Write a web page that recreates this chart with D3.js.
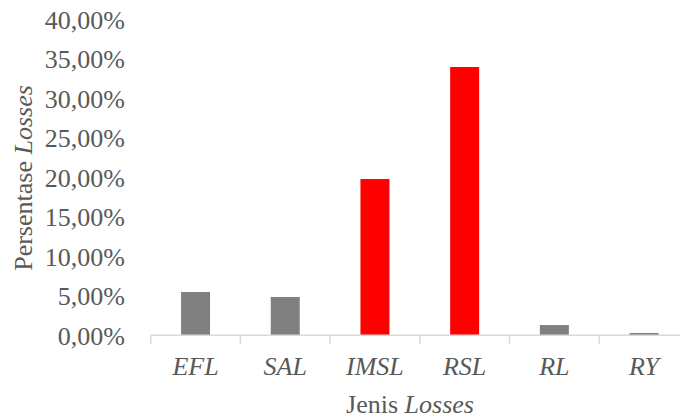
<!DOCTYPE html>
<html><head><meta charset="utf-8">
<script src="https://cdn.jsdelivr.net/npm/d3@7"></script>
<style>body{margin:0;background:#fff}svg{display:block}text{font-family:"Liberation Serif","Times New Roman",serif}</style>
</head><body>
<svg id="c" width="680" height="418"></svg>
<script>
const categories = ["EFL","SAL","IMSL","RSL","RL","RY"];
const values = [0.0548, 0.0485, 0.1978, 0.3396, 0.0130, 0.0029];
const highlighted = ["IMSL","RSL"];
const yTicks = [0,0.05,0.10,0.15,0.20,0.25,0.30,0.35,0.40];

const svg = d3.select("#c");
const x0 = 150.7, x1 = 688.9, yBase = 335.3, yTop = 19.3;
const x = d3.scaleBand().domain(categories).range([x0,x1]).paddingInner(0).paddingOuter(0);
const y = d3.scaleLinear().domain([0,0.40]).range([yBase,yTop]);
const font = "Liberation Serif";
const fs = 26;
const fmt = v => (v*100).toFixed(2).replace(".",",")+"%";

// bars
const bw = 29;
svg.selectAll("rect.bar").data(categories).enter().append("rect")
  .attr("x", d => x(d)+x.bandwidth()/2-bw/2)
  .attr("y", (d,i) => y(values[i]))
  .attr("width", bw)
  .attr("height", (d,i) => yBase - y(values[i]))
  .attr("fill", d => highlighted.includes(d) ? "#ff0000" : "#808080");

// x axis
svg.append("line").attr("x1",x0).attr("x2",680).attr("y1",yBase).attr("y2",yBase)
  .attr("stroke","#d9d9d9").attr("stroke-width",1.5);
const bounds = categories.map(c => x(c)).concat([x1]);
svg.selectAll("line.tk").data(bounds).enter().append("line")
  .attr("x1",d=>d).attr("x2",d=>d).attr("y1",yBase).attr("y2",yBase+8.5)
  .attr("stroke","#d9d9d9").attr("stroke-width",1.5);
svg.selectAll("text.cat").data(categories).enter().append("text")
  .attr("x", d => x(d)+x.bandwidth()/2).attr("y", 375)
  .attr("text-anchor","middle").attr("font-family",font).attr("font-style","italic")
  .attr("font-size",fs).attr("fill","#595959").text(d=>d);

// y axis labels
const ya = svg.append("g").attr("transform",`translate(125,0)`)
  .call(d3.axisLeft(y).tickValues(yTicks).tickSize(0).tickPadding(0).tickFormat(fmt));
ya.attr("font-family",font).attr("font-size",fs);
ya.select(".domain").remove();
ya.selectAll("text").attr("font-family",font).attr("font-size",fs).attr("fill","#595959")
  .attr("dy","0.35em").attr("x",0);

// titles
const xt = svg.append("text").attr("x",410).attr("y",413).attr("text-anchor","middle")
  .attr("font-family",font).attr("font-size",fs).attr("fill","#595959");
xt.append("tspan").text("Jenis ");
xt.append("tspan").attr("font-style","italic").text("Losses");
const yt = svg.append("text").attr("transform","translate(32,178) rotate(-90)").attr("text-anchor","middle")
  .attr("font-family",font).attr("font-size",fs).attr("fill","#595959");
yt.append("tspan").text("Persentase ");
yt.append("tspan").attr("font-style","italic").text("Losses");
</script>
</body></html>
